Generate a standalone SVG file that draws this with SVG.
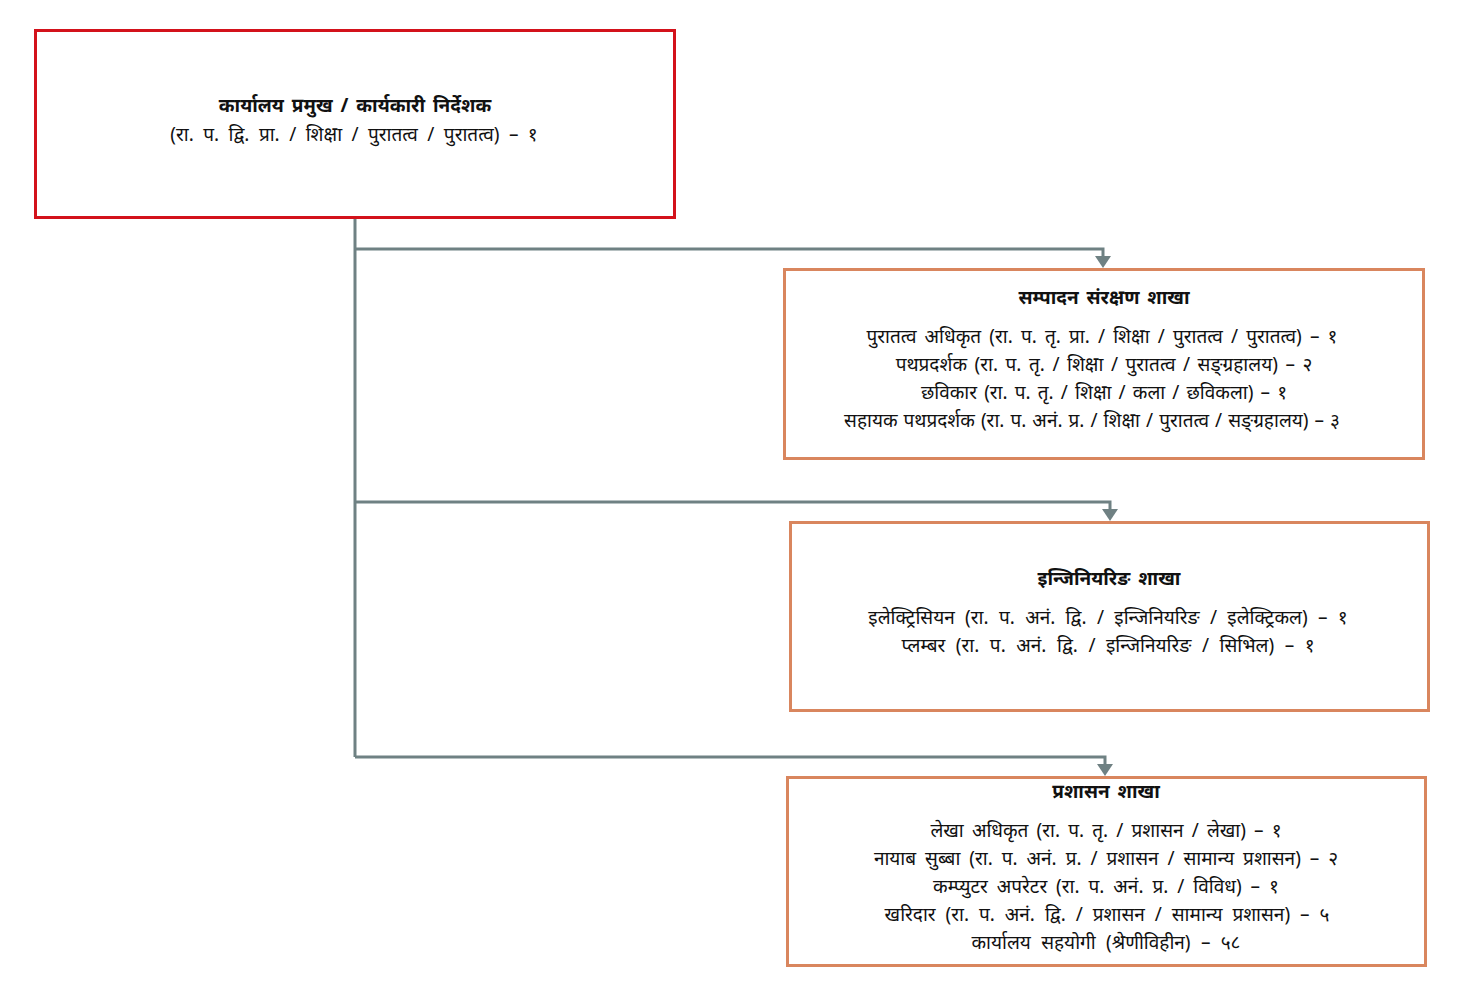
<svg xmlns="http://www.w3.org/2000/svg" width="1480" height="1001" viewBox="0 0 1480 1001">
<defs>
<style>
.bg{fill:#ffffff}
.head{fill:#ffffff;stroke:#d3121b;stroke-width:3}
.box{fill:#ffffff;stroke:#d9865e;stroke-width:3}
.conn{fill:none;stroke:#6f8183;stroke-width:3}
.ah{fill:#6f8183}
text{font-family:"Noto Sans",sans-serif;fill:#111111;text-anchor:middle;font-size:19px;word-spacing:4px}
.t{font-weight:bold;word-spacing:3px}
</style>
</defs>
<rect class="bg" x="0" y="0" width="1480" height="1001"/>
<g id="connectors">
<path class="conn" d="M355,218 V757"/>
<path class="conn" d="M355,249 H1103 V257"/>
<path class="conn" d="M355,502 H1110 V510"/>
<path class="conn" d="M355,757 H1105 V765"/>
<path class="ah" d="M1095,256 L1111,256 L1103,268 Z"/>
<path class="ah" d="M1102,509 L1118,509 L1110,521 Z"/>
<path class="ah" d="M1097,764 L1113,764 L1105,776 Z"/>
</g>
<g id="node-head">
<rect class="head" x="35.5" y="30.5" width="639" height="187"/>
<text class="t" x="355" y="112">कार्यालय प्रमुख / कार्यकारी निर्देशक</text>
<text x="354" y="141" style="word-spacing:4.5px">(रा. प. द्वि. प्रा. / शिक्षा / पुरातत्व / पुरातत्व) – १</text>
</g>
<g id="node-sampadan">
<rect class="box" x="784.5" y="269.5" width="639" height="189"/>
<text class="t" x="1104" y="304">सम्पादन संरक्षण शाखा</text>
<text x="1102" y="343" style="word-spacing:3.2px">पुरातत्व अधिकृत (रा. प. तृ. प्रा. / शिक्षा / पुरातत्व / पुरातत्व) – १</text>
<text x="1104" y="371" style="word-spacing:2.6px">पथप्रदर्शक (रा. प. तृ. / शिक्षा / पुरातत्व / सङ्ग्रहालय) – २</text>
<text x="1104" y="399" style="word-spacing:2.2px">छविकार (रा. प. तृ. / शिक्षा / कला / छविकला) – १</text>
<text x="1092" y="427" style="word-spacing:1.1px">सहायक पथप्रदर्शक (रा. प. अनं. प्र. / शिक्षा / पुरातत्व / सङ्ग्रहालय) – ३</text>
</g>
<g id="node-engineering">
<rect class="box" x="790.5" y="522.5" width="638" height="188"/>
<text class="t" x="1109" y="585">इन्जिनियरिङ शाखा</text>
<text x="1108" y="624" style="word-spacing:5.4px">इलेक्ट्रिसियन (रा. प. अनं. द्वि. / इन्जिनियरिङ / इलेक्ट्रिकल) – १</text>
<text x="1108" y="652" style="word-spacing:5.6px">प्लम्बर (रा. प. अनं. द्वि. / इन्जिनियरिङ / सिभिल) – १</text>
</g>
<g id="node-prashasan">
<rect class="box" x="787.5" y="777.5" width="638" height="188"/>
<text class="t" x="1106" y="798">प्रशासन शाखा</text>
<text x="1106" y="837" style="word-spacing:3.2px">लेखा अधिकृत (रा. प. तृ. / प्रशासन / लेखा) – १</text>
<text x="1106" y="865">नायाब सुब्बा (रा. प. अनं. प्र. / प्रशासन / सामान्य प्रशासन) – २</text>
<text x="1106" y="893">कम्प्युटर अपरेटर (रा. प. अनं. प्र. / विविध) – १</text>
<text x="1107" y="921" style="word-spacing:5px">खरिदार (रा. प. अनं. द्वि. / प्रशासन / सामान्य प्रशासन) – ५</text>
<text x="1106" y="949" style="word-spacing:5.4px">कार्यालय सहयोगी (श्रेणीविहीन) – ५८</text>
</g>
</svg>
